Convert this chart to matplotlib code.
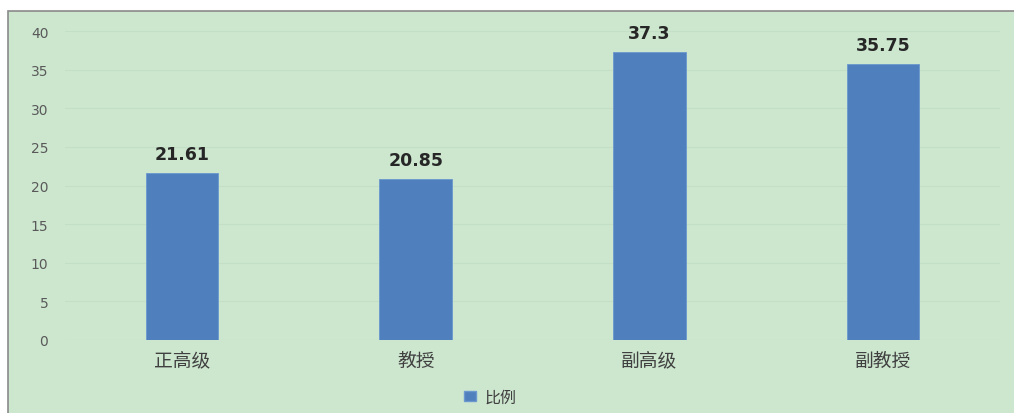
import matplotlib
matplotlib.use("Agg")
import matplotlib.pyplot as plt
from matplotlib.patches import Rectangle, Patch

categories = ["正高级", "教授", "副高级", "副教授"]
values = [21.61, 20.85, 37.3, 35.75]
value_labels = ["21.61", "20.85", "37.3", "35.75"]
yticks = [0, 5, 10, 15, 20, 25, 30, 35, 40]
series_name = "比例"

plt.rcParams['font.family'] = ['Noto Sans CJK SC', 'DejaVu Sans']

W, H = 1014, 414
fig = plt.figure(figsize=(W / 100, H / 100), dpi=100)
fig.patch.set_facecolor('white')
bg = Rectangle((8 / W, -0.05), 1.0, (H - 12) / H + 0.05, transform=fig.transFigure,
               facecolor='#cde7cf', edgecolor='#8a8a8a', linewidth=1.2, zorder=-5)
fig.patches.append(bg)

ax = fig.add_axes([65 / W, (H - 341) / H, (1000 - 65) / W, (341 - 32) / H])
ax.set_zorder(1)
ax.set_facecolor('none')
x = list(range(len(categories)))
bars = ax.bar(x, values, width=0.31, color='#4f7fbc', edgecolor='#6a98cf', linewidth=0.6, zorder=3)
ax.set_xlim(-0.5, len(categories) - 0.5)
ax.set_ylim(0, 40)
ax.set_yticks(yticks)
ax.set_yticklabels([str(t) for t in yticks], fontsize=10, color='#595959', family='DejaVu Sans')
ax.set_xticks(x)
ax.set_xticklabels(categories, fontsize=13.5, color='#404040')
ax.tick_params(axis='y', length=0, pad=12)
ax.tick_params(axis='x', length=0, pad=7)
ax.grid(axis='y', color='#c3dfc6', linewidth=0.8, zorder=0)
for s in ax.spines.values():
    s.set_visible(False)

for xi, v, lab in zip(x, values, value_labels):
    ax.annotate(lab, (xi, v), xytext=(0, 10), textcoords='offset points', ha='center', va='baseline',
                fontsize=12.5, fontweight='bold', color='#262626', family='DejaVu Sans')

handle = Patch(facecolor='#4f7fbc', edgecolor='#6a98cf')
leg = fig.legend([handle], [series_name], loc='center', bbox_to_anchor=(490 / W, (H - 398) / H),
                 frameon=False, fontsize=11.5, handlelength=0.8, handleheight=0.6, handletextpad=0.5,
                 labelcolor='#404040')
leg.set_zorder(2)

fig.savefig('out.png', dpi=100)
